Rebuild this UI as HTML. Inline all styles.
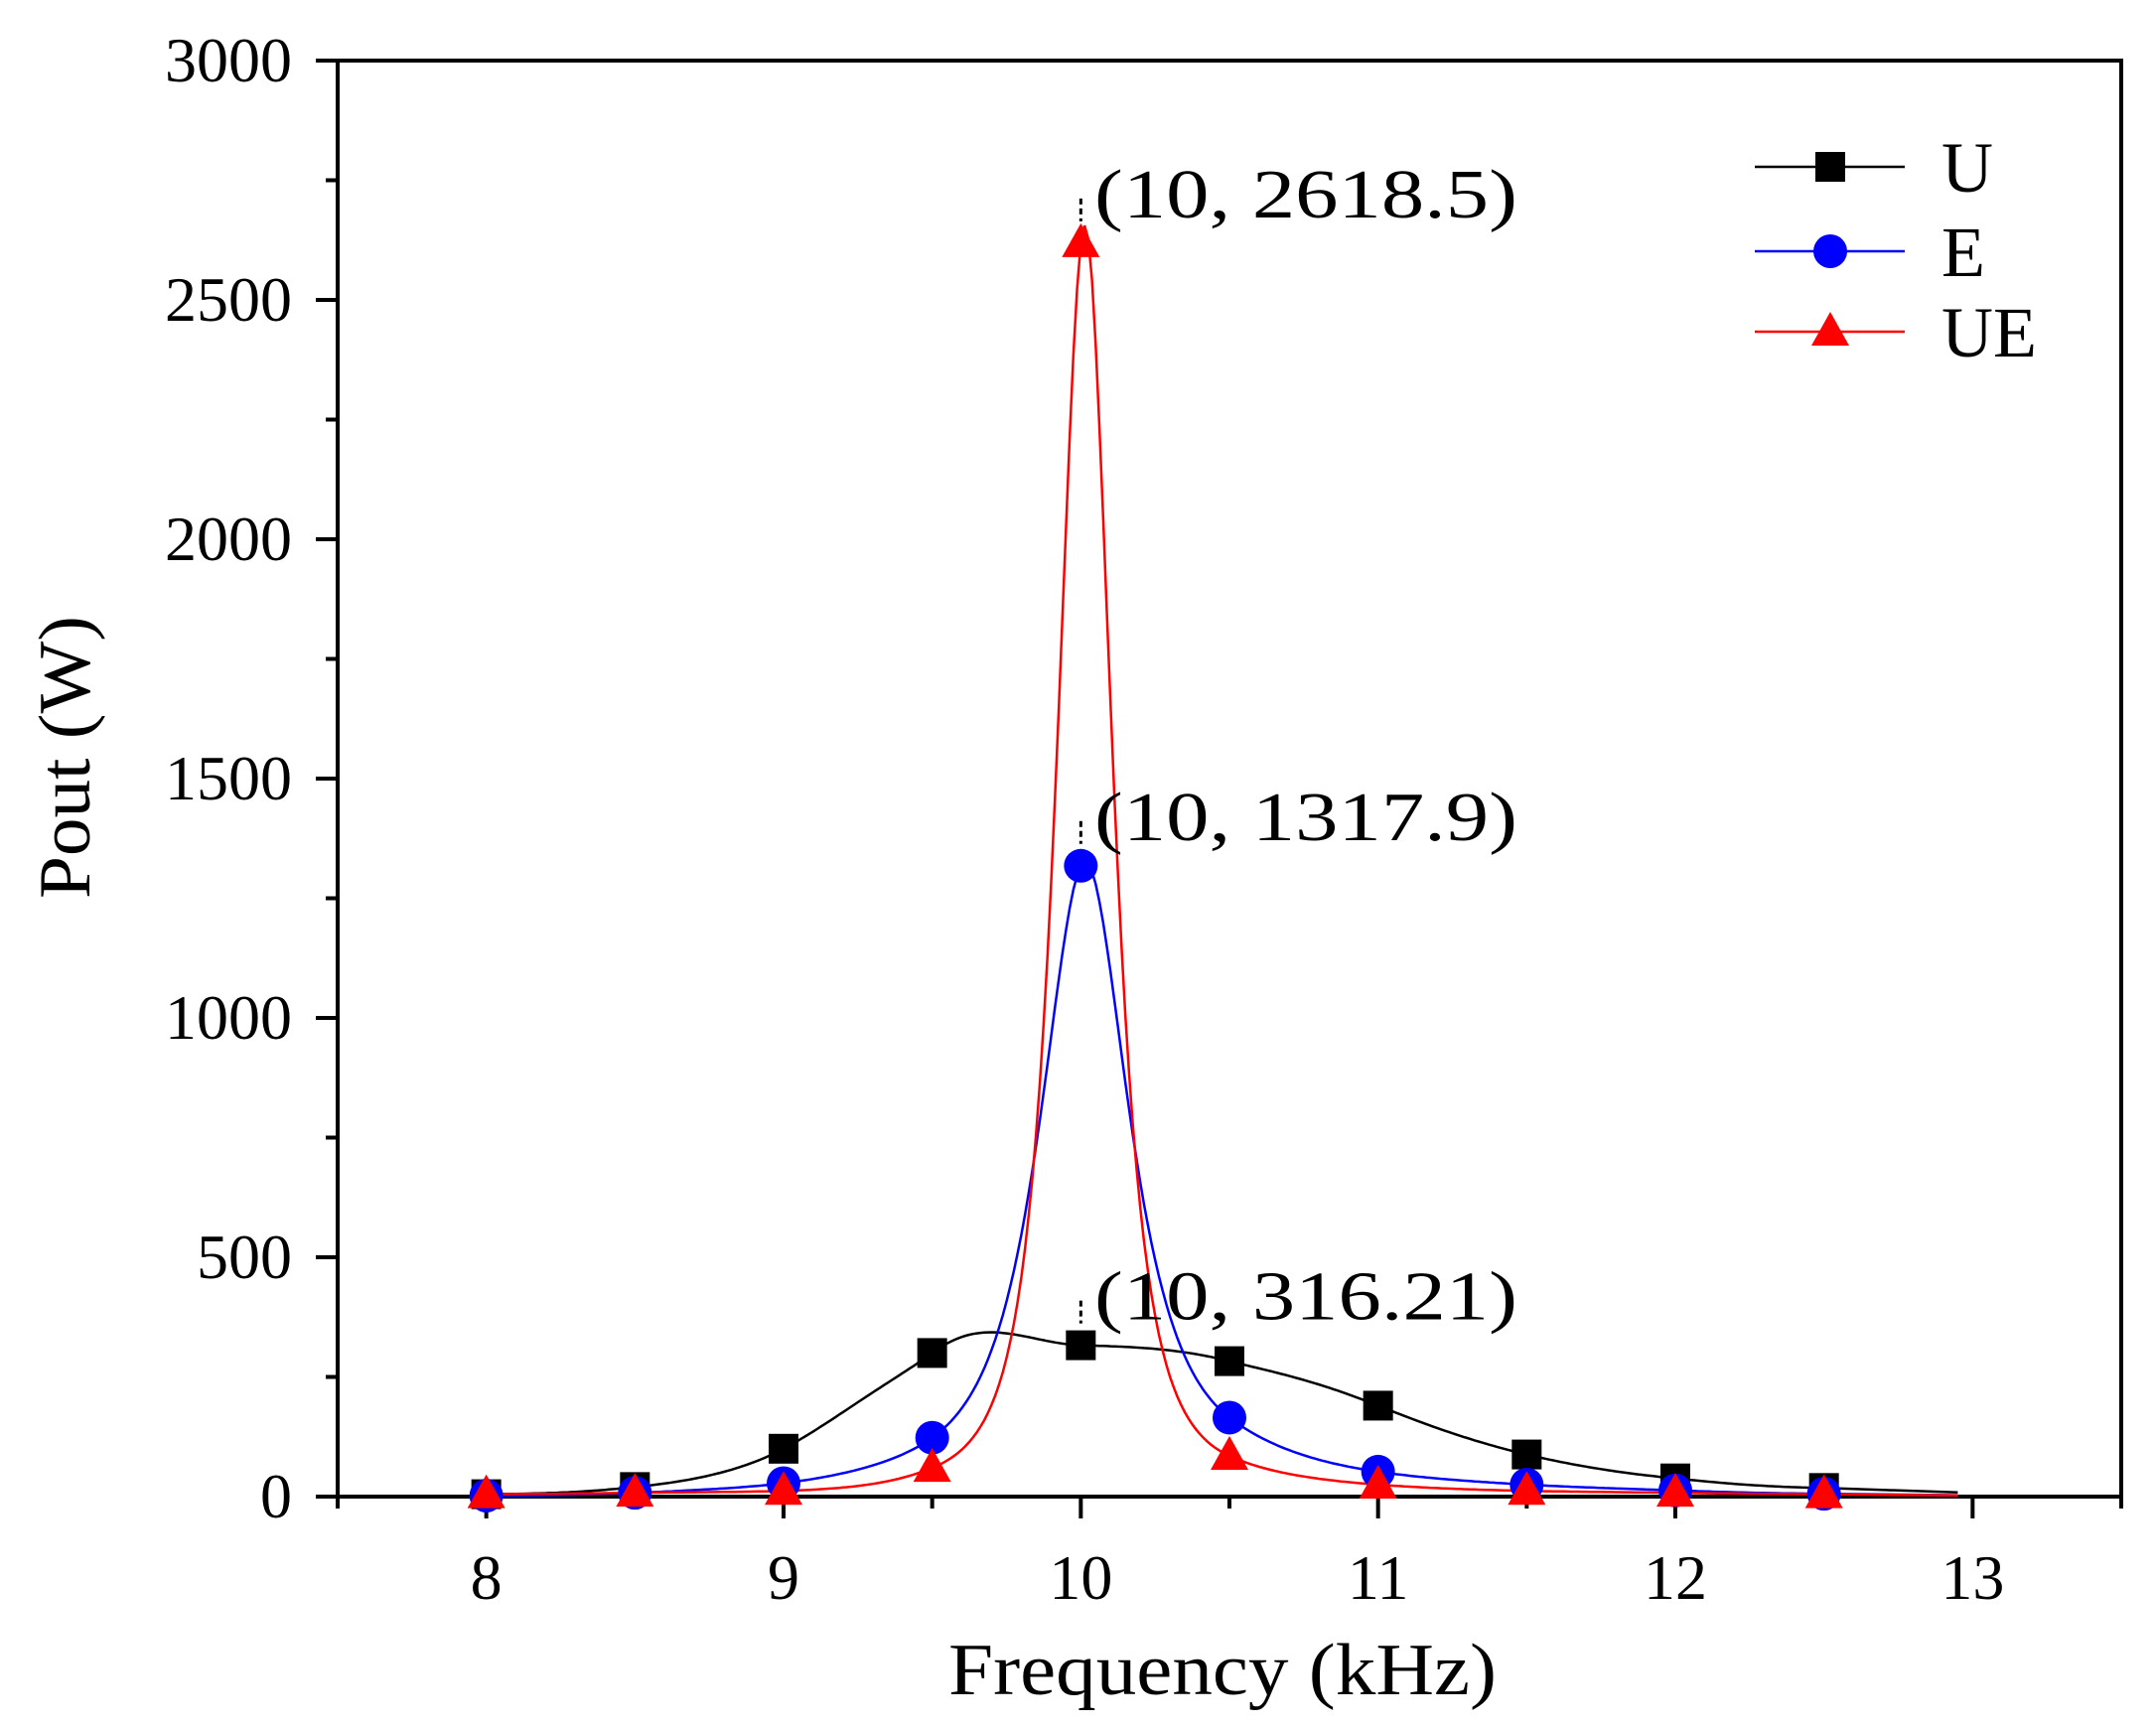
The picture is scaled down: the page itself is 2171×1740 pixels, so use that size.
<!DOCTYPE html>
<html><head><meta charset="utf-8"><style>
html,body{margin:0;padding:0;background:#fff;}
svg text{font-family:"Liberation Serif","Noto Serif CJK SC",serif;fill:#000;}
</style></head><body>
<svg id="chart" width="2171" height="1735" viewBox="0 0 2171 1735" xmlns="http://www.w3.org/2000/svg">
<g id="plot"></g>
</svg>
<script>
const freqs=[8,8.5,9,9.5,10,10.5,11,11.5,12,12.5];
const seriesU=[5,20,100,300,316.21,283,190,88,38,18];
const seriesE=[2,8,28,123,1317.9,165,52,25,13,6];
const seriesUE=[5,8,12,60,2618.5,85,25,12,8,5];
const xTicks=[8,9,10,11,12,13];
const yTicks=[0,500,1000,1500,2000,2500,3000];
const annotations=["(10,  316.21)","(10,  1317.9)","(10,  2618.5)"];
const annValues=[316.21,1317.9,2618.5];

const L=340,R=2136,T=61,B=1507,X0=7.5,X1=13.5,Y0=0,Y1=3000;
const sx=v=>L+(v-X0)/(X1-X0)*(R-L);
const sy=v=>B-(v-Y0)/(Y1-Y0)*(B-T);
const NS="http://www.w3.org/2000/svg";
const g=document.getElementById('plot');
function el(t,a,p){const e=document.createElementNS(NS,t);for(const k in a)e.setAttribute(k,a[k]);(p||g).appendChild(e);return e;}

const frame=el('rect',{x:L,y:T,width:R-L,height:B-T,fill:'none',stroke:'#000','stroke-width':4});



for(let v=7.5;v<=13.5001;v+=0.5){
  const major=Math.abs(v-Math.round(v))<1e-6&&v>=8&&v<=13;
  const t=el('line',{x1:sx(v),x2:sx(v),y1:B,y2:B+(major?22:12),stroke:'#000','stroke-width':4});
  
  
}
xTicks.forEach(v=>{
  const t=el('text',{x:sx(v),y:1610,'font-size':64,'text-anchor':'middle'});t.textContent=v;
  
  
});
for(let v=0;v<=3000;v+=250){
  const major=v%500===0;
  const t=el('line',{x1:L,x2:L-(major?22:12),y1:sy(v),y2:sy(v),stroke:'#000','stroke-width':4});
  
  
}
yTicks.forEach(v=>{
  const t=el('text',{x:L-46,y:sy(v)+21,'font-size':64,'text-anchor':'end'});t.textContent=v;
  
  
});
let xt=el('text',{x:955,y:1706,'font-size':74,textLength:552,lengthAdjust:'spacingAndGlyphs'});xt.textContent='Frequency (kHz)';


let yt=el('text',{x:0,y:0,'font-size':74,textLength:285,lengthAdjust:'spacingAndGlyphs',transform:'translate(90,905) rotate(-90)'});yt.textContent='Pout (W)';



function curve(ys){
  const z=ys.map(v=>Math.pow(Math.max(v,0.5),-0.5));
  const n=freqs.length,pts=[];
  for(let i=0;i<n-1;i++){
    const p0=z[Math.max(i-1,0)],p1=z[i],p2=z[i+1],p3=z[Math.min(i+2,n-1)];
    const zmin=Math.min(p1,p2);
    for(let s=0;s<40;s++){
      const t=s/40,t2=t*t,t3=t2*t;
      let v=0.5*((2*p1)+(-p0+p2)*t+(2*p0-5*p1+4*p2-p3)*t2+(-p0+3*p1-3*p2+p3)*t3);
      v=Math.max(v,zmin*0.95);
      const x=freqs[i]+(freqs[i+1]-freqs[i])*t;
      pts.push([sx(x),sy(1/(v*v))]);
    }
  }
  pts.push([sx(freqs[n-1]),sy(ys[n-1])]);
  pts.push([sx(12.95),sy(ys[n-1]*0.5)]);
  return 'M'+pts.map(p=>p[0].toFixed(1)+','+p[1].toFixed(1)).join('L');
}
function marker(type,x,y,color,name){
  let m;
  if(type==='sq')m=el('rect',{x:x-15,y:y-15,width:30,height:30,fill:color});
  else if(type==='ci')m=el('circle',{cx:x,cy:y,r:17,fill:color});
  else m=el('polygon',{points:`${x},${y-20} ${x-19},${y+14} ${x+19},${y+14}`,fill:color});
  
  
}
const series=[[seriesU,'#000','sq','u'],[seriesE,'#0000ff','ci','e'],[seriesUE,'#ff0000','tr','ue']];
series.forEach(([ys,c,t,n])=>{
  const p=el('path',{d:curve(ys),fill:'none',stroke:c,'stroke-width':2.5});
  
  
});
series.forEach(([ys,c,t,n])=>{
  ys.forEach((v,i)=>marker(t,sx(freqs[i]),sy(v),c,'point-'+n));
});
annotations.forEach((a,i)=>{
  const y=sy(annValues[i]);
  const ln=el('line',{x1:sx(10),x2:sx(10),y1:y-45,y2:y-22,stroke:'#000','stroke-width':3,'stroke-dasharray':'6,4'});
  
  
  const t=el('text',{x:1102,y:y-26,'font-size':70,textLength:426,lengthAdjust:'spacingAndGlyphs'});t.textContent=a;
  
  
});
const lg=el('g',{});


[['U','#000','sq',168],['E','#0000ff','ci',253],['UE','#ff0000','tr',334]].forEach(([lab,c,t,y])=>{
  const l=el('line',{x1:1767,x2:1918,y1:y,y2:y,stroke:c,'stroke-width':2.5},lg);
  
  
  marker(t,1843,y,c,'legend-marker');
  const tx=el('text',{x:1955,y:y+25,'font-size':72},lg);tx.textContent=lab;
  
  
});
</script>
</body></html>
